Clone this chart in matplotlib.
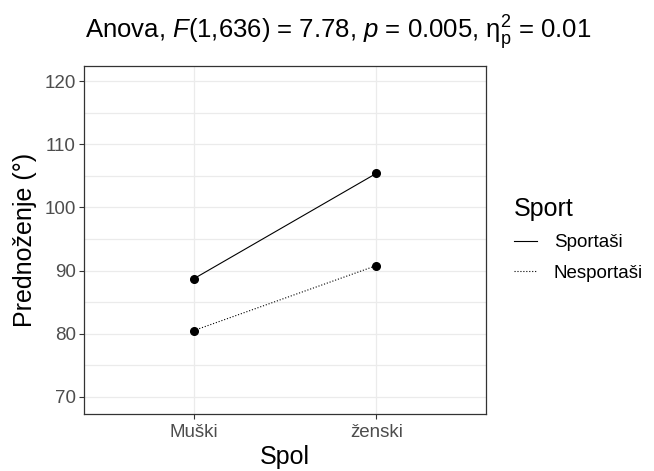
import matplotlib

matplotlib.use("Agg")
import matplotlib.pyplot as plt
from matplotlib.lines import Line2D

plt.rcParams["font.family"] = ["Liberation Sans", "DejaVu Sans"]
plt.rcParams["mathtext.fontset"] = "custom"
plt.rcParams["mathtext.rm"] = "Liberation Sans"
plt.rcParams["mathtext.it"] = "Liberation Sans:italic"

spol = ["Muški", "ženski"]
sport_names = ["Sportaši", "Nesportaši"]
sportasi = [88.7, 105.4]
nesportasi = [80.5, 90.8]
yticks = [70, 80, 90, 100, 110, 120]

W, H = 654, 471
fig = plt.figure(figsize=(W / 100, H / 100), dpi=100)
ax = fig.add_axes([84 / W, (H - 414) / H, 402 / W, 348 / H])

xs = range(len(spol))
for vals, ls in [(sportasi, "-"), (nesportasi, ":")]:
    ax.plot(xs, vals, color="black", ls=ls, lw=0.8, zorder=3)
    ax.plot(xs, vals, "o", color="black", ms=5.5, zorder=4)

ax.set_xlim(-0.6, 1.6)
ax.set_ylim(67.3, 122.4)
ax.set_xticks(list(xs), spol)
ax.set_yticks(yticks)
ax.set_yticks([75, 85, 95, 105, 115], minor=True)
ax.tick_params(which="minor", length=0)
ax.tick_params(which="major", length=3.5, width=0.8, color="#333333",
               labelcolor="#4D4D4D", labelsize=13.5)
ax.tick_params(axis="x", pad=4)
ax.tick_params(axis="y", pad=2.5)
ax.grid(which="both", color="#EBEBEB", lw=0.9, zorder=0)
ax.set_axisbelow(True)
for s in ax.spines.values():
    s.set_color("#333333")
    s.set_linewidth(0.9)

ax.set_xlabel("Spol", fontsize=18, labelpad=2.5)
ax.set_ylabel("Prednoženje (°)", fontsize=18, labelpad=5)

fig.text(338 / W, 1 - 33 / H,
         r"Anova, $\mathit{F}$(1,636) = 7.78, $\mathit{p}$ = 0.005, "
         r"$\mathrm{\eta}^{2}_{\mathrm{p}}$ = 0.01",
         ha="center", va="center", fontsize=18.5)

handles = [Line2D([], [], color="black", ls="-", lw=0.8),
           Line2D([], [], color="black", ls=":", lw=0.8)]
leg = fig.legend(handles, sport_names, title="Sport", loc="upper left",
                 bbox_to_anchor=(508 / W, 1 - 191 / H), frameon=False,
                 fontsize=13.5, title_fontsize=18, handlelength=1.25,
                 handletextpad=0.9, labelspacing=0.72, borderpad=0.3,
                 borderaxespad=0, alignment="left")

fig.savefig("out.png", dpi=100)
